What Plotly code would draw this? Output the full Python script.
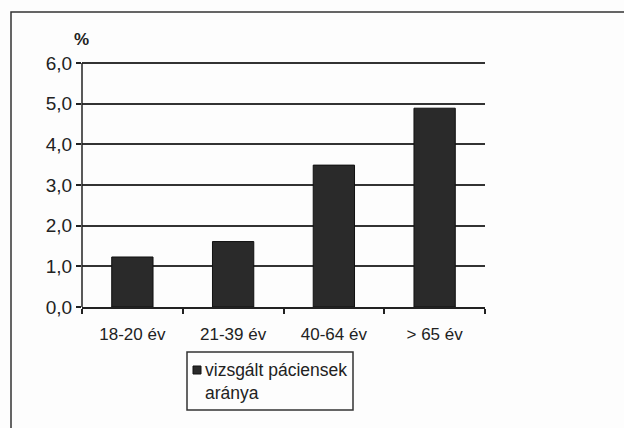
import plotly.graph_objects as go

categories = ["18-20 év", "21-39 év", "40-64 év", "> 65 év"]
values = [1.23, 1.61, 3.49, 4.89]
series_name = "vizsgált páciensek<br>aránya"
y_ticks = [0, 1, 2, 3, 4, 5, 6]
y_tick_labels = ["0,0", "1,0", "2,0", "3,0", "4,0", "5,0", "6,0"]

FONT = "Arial, Liberation Sans, sans-serif"
DARK = "#2a2a2a"
TXT = "#222222"

# plot area in pixels (top pixel corresponds to 6.1)
L, R, T, B = 82, 485, 59, 307
W, H = 624, 428
PW, PH = R - L, B - T


def px(x):
    return (x - L) / PW


def py(y):
    return (B - y) / PH


fig = go.Figure()
fig.add_trace(go.Bar(
    x=categories, y=values, name=series_name,
    marker=dict(color=DARK, line=dict(color="#111111", width=1)),
    width=0.41, showlegend=False,
))

fig.update_layout(
    width=W, height=H,
    margin=dict(l=L, r=W - R, t=T, b=H - B),
    paper_bgcolor="#fdfdfd", plot_bgcolor="#fdfdfd",
    font=dict(family=FONT, size=17, color=TXT),
    showlegend=False,
    xaxis=dict(
        type="category", range=[-0.5, 3.5],
        tickson="boundaries", ticks="outside", ticklen=5, tickwidth=1.5,
        tickcolor=TXT, ticklabelstandoff=11,
        showline=True, linecolor=TXT, linewidth=1.5,
        showgrid=False, zeroline=False,
        tickfont=dict(family=FONT, size=17, color=TXT),
    ),
    yaxis=dict(
        range=[0, 6.1], tickvals=y_ticks, ticktext=y_tick_labels,
        ticks="outside", ticklen=5, tickwidth=1.5, tickcolor=TXT,
        showline=False,
        showgrid=True, gridcolor="#333333", gridwidth=1.5,
        zeroline=False,
        tickfont=dict(family=FONT, size=19, color=TXT),
    ),
    annotations=[
        dict(text="<b>%</b>", xref="paper", yref="paper", x=px(81), y=py(39),
             xanchor="center", yanchor="middle", showarrow=False,
             font=dict(family=FONT, size=17, color=TXT)),
        # legend text
        dict(text=series_name, xref="paper", yref="paper", x=px(203), y=py(381),
             xanchor="left", yanchor="middle", align="left", showarrow=False,
             font=dict(family=FONT, size=17.5, color=TXT)),
    ],
    shapes=[
        # outer frame
        dict(type="rect", xref="paper", yref="paper",
             x0=px(11), x1=px(700), y0=py(500), y1=py(12),
             line=dict(color="#333333", width=1.5), fillcolor="rgba(0,0,0,0)",
             layer="below"),
        # y axis line (from 0 to 6)
        dict(type="line", xref="paper", yref="y", x0=0, x1=0, y0=0, y1=6,
             line=dict(color=TXT, width=1.5)),
        # legend box
        dict(type="rect", xref="paper", yref="paper",
             x0=px(187), x1=px(353), y0=py(410), y1=py(352),
             line=dict(color="#333333", width=1.5), fillcolor="#fdfdfd"),
        # legend swatch
        dict(type="rect", xref="paper", yref="paper",
             x0=px(193), x1=px(201), y0=py(374), y1=py(366),
             line=dict(color="#111111", width=1), fillcolor=DARK),
    ],
)

fig.write_html("out.html", config={"displayModeBar": False},
               post_script="document.body.style.margin='0';document.body.style.padding='0';")
